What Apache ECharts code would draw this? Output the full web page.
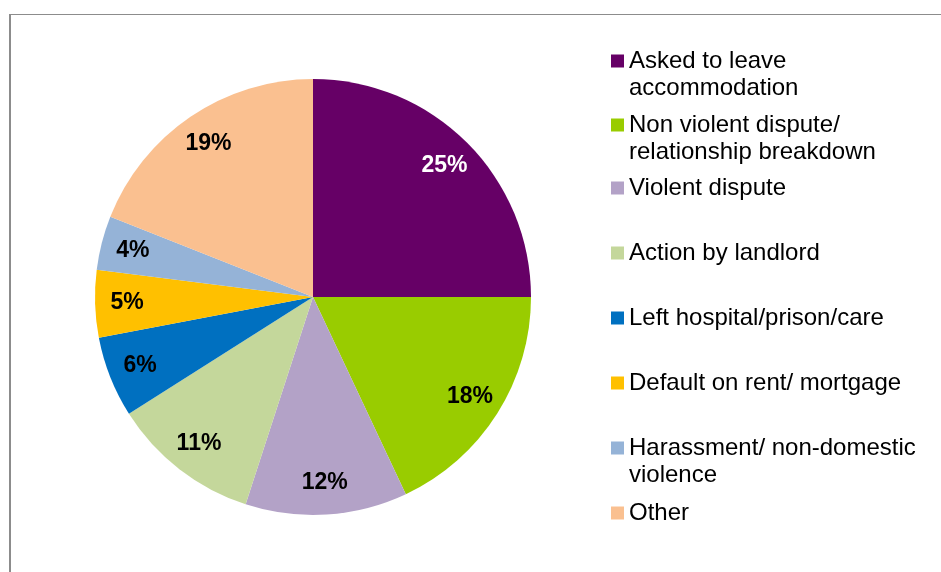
<!DOCTYPE html>
<html>
<head>
<meta charset="utf-8">
<script src="https://cdn.jsdelivr.net/npm/echarts@6/dist/echarts.min.js"></script>
<style>
  html, body { margin: 0; padding: 0; background: #fff; }
  #chart { width: 941px; height: 572px; }
</style>
</head>
<body>
<div id="chart"></div>
<script>
// Reasons for homelessness, share of cases (%)
const categories = [
  'Asked to leave\naccommodation',
  'Non violent dispute/\nrelationship breakdown',
  'Violent dispute',
  'Action by landlord',
  'Left hospital/prison/care',
  'Default on rent/ mortgage',
  'Harassment/ non-domestic\nviolence',
  'Other'
];
const values = [25, 18, 12, 11, 6, 5, 4, 19];
const colors = ['#660066', '#99CC00', '#B3A2C7', '#C4D79B', '#0070C0', '#FFC000', '#95B3D7', '#FAC090'];
const labelColors = ['#ffffff', '#000000', '#000000', '#000000', '#000000', '#000000', '#000000', '#000000'];

const FONT = '"Liberation Sans", Arial, sans-serif';
const cx = 313, cy = 297, R = 218;
const LH = 27;

const chart = echarts.init(document.getElementById('chart'), null, { renderer: 'canvas' });

const pieData = categories.map((name, i) => ({
  name, value: values[i], itemStyle: { color: colors[i] }
}));
const labelData = categories.map((name, i) => ({
  name, value: values[i],
  label: { color: labelColors[i] }
}));

// One legend block per entry so every first line sits on a regular 65px pitch;
// wrapped entries get a blank leading line so the swatch lines up with the first line
const firstLineY = [61, 125, 188, 253, 318, 383, 448, 513];
const legends = categories.map((name, i) => {
  const twoLines = name.indexOf('\n') >= 0;
  return {
    data: [name],
    orient: 'vertical',
    left: 611,
    top: twoLines ? firstLineY[i] - 1.5 * LH : firstLineY[i] - LH / 2,
    padding: 0,
    itemWidth: 13,
    itemHeight: 13,
    itemGap: 0,
    icon: 'rect',
    selectedMode: false,
    formatter: n => (twoLines ? ' \n' + n : n),
    textStyle: {
      fontFamily: FONT, fontSize: 24, color: '#000', lineHeight: LH
    }
  };
});

chart.setOption({
  animation: false,
  backgroundColor: '#ffffff',
  graphic: [
    { type: 'line', shape: { x1: 9, y1: 14.5, x2: 941, y2: 14.5 }, style: { stroke: '#8c8c8c', lineWidth: 1 } },
    { type: 'line', shape: { x1: 10, y1: 14, x2: 10, y2: 572 }, style: { stroke: '#8c8c8c', lineWidth: 2 } }
  ],
  legend: legends,
  series: [
    {
      type: 'pie',
      center: [cx, cy],
      radius: [0, R],
      startAngle: 90,
      clockwise: true,
      silent: true,
      label: { show: false },
      labelLine: { show: false },
      itemStyle: { borderWidth: 0 },
      emphasis: { disabled: true },
      data: pieData
    },
    {
      // transparent ring that carries the percentage labels near the rim
      type: 'pie',
      center: [cx, cy],
      radius: [148, R],
      startAngle: 90,
      clockwise: true,
      silent: true,
      itemStyle: { color: 'rgba(0,0,0,0)', borderWidth: 0 },
      emphasis: { disabled: true },
      labelLine: { show: false },
      label: {
        show: true,
        position: 'inside',
        formatter: '{c}%',
        fontFamily: FONT,
        fontSize: 23,
        fontWeight: 'bold'
      },
      data: labelData
    }
  ]
});
</script>
</body>
</html>
